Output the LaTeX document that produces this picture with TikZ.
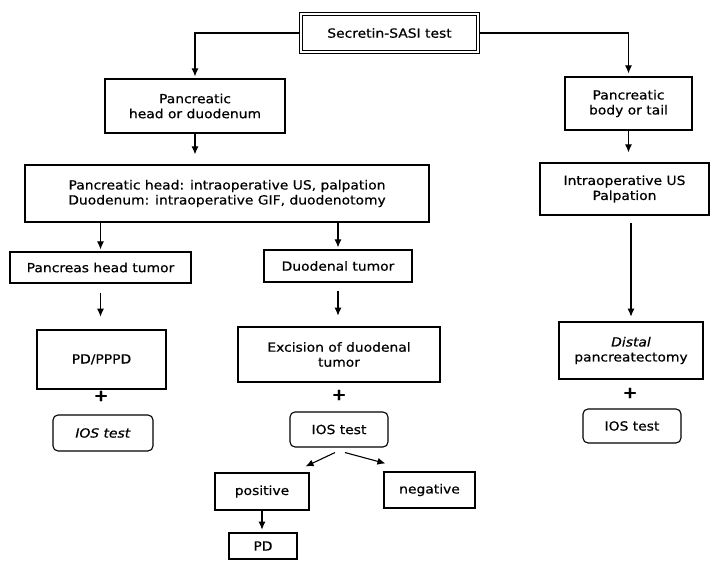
\documentclass[tikz,border=0pt]{standalone}
\usepackage{fontspec}
\newfontfamily\chartfont[FakeStretch=1.1, FakeBold=0.6]{DejaVu Sans}
\usetikzlibrary{arrows.meta, calc}

\begin{document}
\begin{tikzpicture}[x=1pt, y=-1pt,
    box/.style={draw, line width=1.1pt, align=center, inner sep=0pt, font=\chartfont\fontsize{12.6}{15}\selectfont},
    boldbox/.style={box, line width=2.6pt},
    iosbox/.style={box, rounded corners=5pt},
    flow/.style={line width=1.1pt, -{Latex[length=8pt, width=7pt]}},
    plus/.style={inner sep=0pt, font=\chartfont\bfseries\fontsize{16}{16}\selectfont}]
    \useasboundingbox (0,0) rectangle (710,561);

    % Start
    \node (sasi) at (389.5,33) [box, double, double distance=1.6pt, line width=1.2pt, minimum width=177, minimum height=38] {Secretin-SASI test};

    % Two localisations
    \node (headduo) at (195,106) [box, minimum width=180, minimum height=54] {Pancreatic\\head or duodenum};
    \node (bodytail) at (628.5,103.5) [box, minimum width=127, minimum height=53] {Pancreatic\\body or tail};
    \draw[flow, shorten >=2pt] (sasi.west) -| (headduo.north);
    \draw[flow, shorten >=3pt] (sasi.east) -| (bodytail.north);

    % Intraoperative search
    \node (intraop) at (227,193.5) [box, minimum width=404, minimum height=57] {Pancreatic head: intraoperative US, palpation\\Duodenum: intraoperative GIF, duodenotomy};
    \node (intraus) at (624.5,189) [box, minimum width=169, minimum height=52] {Intraoperative US\\Palpation};
    \draw[flow, shorten >=10pt] (headduo.south) -- (headduo.south |- intraop.north);
    \draw[flow, shorten >=10pt] (bodytail.south) -- (bodytail.south |- intraus.north);

    % Tumours found
    \node (headtumor) at (100.5,267.5) [box, minimum width=181, minimum height=31] {Pancreas head tumor};
    \node (duotumor) at (338,266) [box, minimum width=148, minimum height=32] {Duodenal tumor};
    \draw[flow, shorten >=2pt] (intraop.south -| headtumor.north) -- (headtumor.north);
    \draw[flow, shorten >=2pt] (intraop.south -| duotumor.north) -- (duotumor.north);

    % Operations
    \node (pppd) at (101.5,359.5) [boldbox, minimum width=129, minimum height=59] {PD/PPPD};
    \node (excision) at (339,354.5) [boldbox, minimum width=202, minimum height=55] {Excision of duodenal\\tumor};
    \node (distal) at (631,350.5) [boldbox, minimum width=144, minimum height=57] {\textit{Distal}\\pancreatectomy};
    \draw[flow, shorten <=9pt, shorten >=12pt] (headtumor.south) -- (headtumor.south |- pppd.north);
    \draw[flow, shorten <=8pt, shorten >=10pt] (duotumor.south) -- (duotumor.south |- excision.north);
    \draw[flow, shorten <=7pt, shorten >=4pt] (intraus.south -| distal.north) -- (distal.north);

    % IOS tests
    \node (plusa) at (101,396) [plus] {+};
    \node (plusb) at (339,395) [plus] {+};
    \node (plusc) at (630,393) [plus] {+};
    \node (iosa) at (103,433) [iosbox, minimum width=100, minimum height=36] {\textit{IOS test}};
    \node (iosb) at (339,429.5) [iosbox, minimum width=98, minimum height=35] {IOS test};
    \node (iosc) at (632,426) [iosbox, minimum width=98, minimum height=34] {IOS test};

    % Result of the IOS test
    \node (positive) at (262,491.5) [box, minimum width=94, minimum height=37] {positive};
    \node (negative) at (429.5,490) [box, minimum width=91, minimum height=36] {negative};
    \draw[flow] ($(iosb.south)+(-4,5)$) -- ($(positive.north east)+(-4,-6)$);
    \draw[flow] ($(iosb.south)+(6,5)$) -- ($(negative.north west)+(2,-8)$);
    \node (pd) at (263,546) [boldbox, minimum width=68, minimum height=26] {PD};
    \draw[flow, shorten >=2pt] (positive.south) -- (positive.south |- pd.north);
\end{tikzpicture}
\end{document}
